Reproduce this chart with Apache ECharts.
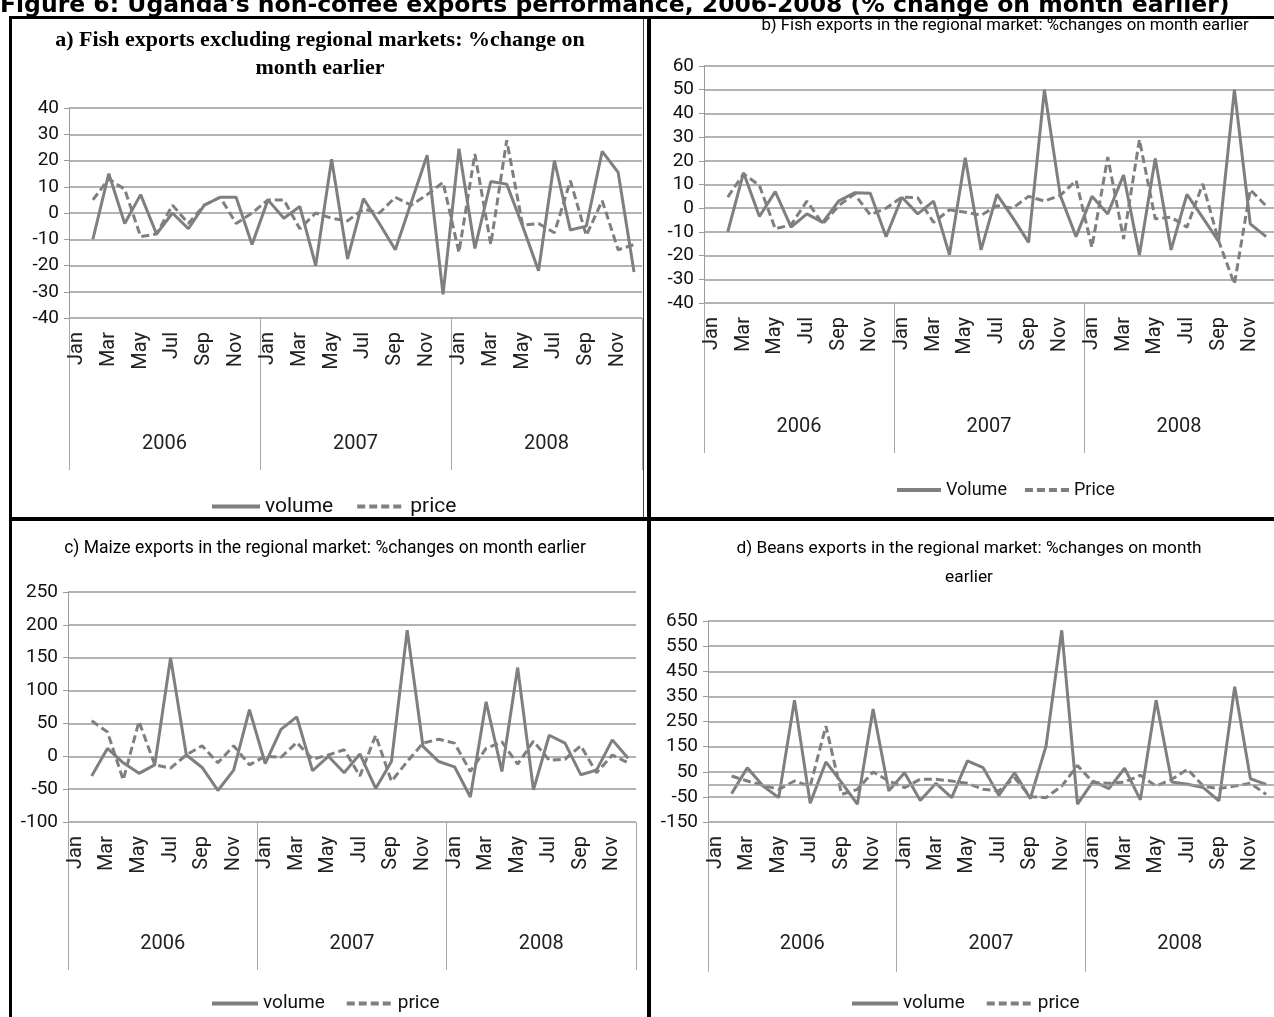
<!DOCTYPE html>
<html><head><meta charset="utf-8">
<script src="https://cdn.jsdelivr.net/npm/echarts@6/dist/echarts.min.js"></script>
<style>html,body{margin:0;padding:0;background:#fff;overflow:hidden}#c{width:1274px;height:1017px}</style>
</head><body><div id="c"></div>
<script>
const monthNames = ['Jan','Feb','Mar','Apr','May','Jun','Jul','Aug','Sep','Oct','Nov','Dec'];
const years = ['2006','2007','2008'];
const months = [].concat(monthNames, monthNames, monthNames);

const volumeA = [null,-10,15,-4,7,-8,0,-6,3,6,6,-12, 5,-2,2.5,-20,20.5,-17.5,5.5,-4,-14,4,22,-31, 24.5,-13.5,12,11,-5,-22,20,-6.5,-5,23.5,15.5,-22.5];
const priceA  = [null,5,13,9,-9,-8,3,-4,3,6,-4,0, 5,5,-6,0,-2,-3,1.5,0,6,3,7,11.7, -15,22.5,-12,27.7,-4.6,-4,-7.5,12.3,-8.6,4.7,-14,-12];
const volumeB = [null,-10,15,-3.5,7,-8,-2.4,-6,3,6.5,6.3,-12, 4.6,-2.4,3,-19.6,21.3,-17.6,5.8,-4,-14.4,50,5.4,-12, 5,-2.4,14,-19.7,21,-17.6,5.8,-4,-14,50,-6.6,-12];
const priceB  = [null,4.7,14.5,9.6,-8.7,-7,3,-6.6,1,6,-2.8,0, 4.7,4.4,-6,-0.7,-1.7,-3,1,0,5,3,5.4,11.7, -16.5,21.6,-13,28.9,-4.5,-3.8,-8,10.3,-13.7,-32,7.8,1];
const volumeC = [null,-30,12,-10,-26,-13,150,2,-17,-52,-21,71, -11,41,60,-22,0,-25,3.5,-49,-8,192,15,-8, -16,-62,83,-23,135,-51,32,20,-28,-21,25,-3];
const priceC  = [null,54,37,-36,53,-13,-18,2,16,-10,16,-13, 0,-1.5,21,-4.5,2,10,-30,32,-38,-8,20,26, 20,-23,12,22,-12,23,-6,-4.5,16,-25,2,-10];
const volumeD = [null,-37,66,-7,-53,335,-75,89,7,-79,300,-26, 46,-64,4,-53,93,66,-44,46,-57,152,613,-79, 13,-17,64,-62,335,9,0,-13,-66,388,22,0];
const priceD  = [null,33,13,-4,-20,13,-7,232,-40,-20,49,13, -13,20,20,13,4,-20,-26,26,-49,-53,-7,75, 7,4,9,36,-7,20,60,-7,-17,-7,4,-40];

const mainTitle = "Figure 6: Uganda's non-coffee exports performance, 2006-2008 (% change on month earlier)";
const titleA = 'a) Fish exports excluding regional markets: %change on\nmonth earlier';
const titleB = 'b) Fish exports in the regional market: %changes on month earlier';
const titleC = 'c) Maize exports in the regional market: %changes on month earlier';
const titleD = 'd) Beans exports in the regional market: %changes on month\nearlier';
const legendLower = ['volume','price'];
const legendUpper = ['Volume','Price'];

const SANS = 'Roboto, "Noto Sans", sans-serif';
const LINE = '#7f7f7f';
const GRID = '#9a9a9a';

const panels = [
  {grid:{left:69, top:108, width:573, height:210}, y:{min:-40,max:40,interval:10}, vol:volumeA, pr:priceA, names:legendLower, tickLen:152, yearMargin:116,
   legend:{left:210, top:496, fontSize:21, itemWidth:48, itemGap:22}},
  {grid:{left:704, top:66, width:578, height:237}, y:{min:-40,max:60,interval:10}, vol:volumeB, pr:priceB, names:legendUpper, tickLen:150, yearMargin:114,
   legend:{left:895, top:481, fontSize:18, itemWidth:44, itemGap:16}},
  {grid:{left:68, top:592, width:568, height:230}, y:{min:-100,max:250,interval:50}, vol:volumeC, pr:priceC, names:legendLower, tickLen:148, yearMargin:112,
   legend:{left:210, top:994, fontSize:19, itemWidth:46, itemGap:20}},
  {grid:{left:708, top:621, width:571, height:201}, y:{min:-150,max:650,interval:100}, vol:volumeD, pr:priceD, names:legendLower, tickLen:150, yearMargin:112,
   legend:{left:850, top:994, fontSize:19, itemWidth:46, itemGap:20}, zeroLine:true}
];

const grids = [], xAxes = [], yAxes = [], series = [], legends = [];
panels.forEach((p, i) => {
  grids.push(Object.assign({containLabel:false}, p.grid));
  xAxes.push({
    type:'category', gridIndex:i, data:months, position:'bottom',
    axisLine:{show:false}, axisTick:{show:false}, splitLine:{show:false},
    axisLabel:{interval:1, rotate:90, margin:14, fontSize:20, fontFamily:SANS, color:'#222'}
  });
  xAxes.push({
    type:'category', gridIndex:i, data:years, position:'bottom',
    axisLine:{show:false},
    axisTick:{show:true, length:p.tickLen, lineStyle:{color:'#a8a8a8', width:1}},
    axisLabel:{margin:p.yearMargin, fontSize:20, fontFamily:SANS, color:'#222'},
    splitLine:{show:false}
  });
  yAxes.push({
    type:'value', gridIndex:i, min:p.y.min, max:p.y.max, interval:p.y.interval,
    axisLine:{show:true, lineStyle:{color:GRID, width:1}},
    axisTick:{show:true, length:5, lineStyle:{color:GRID}},
    axisLabel:{margin:10, fontSize:19, fontFamily:SANS, color:'#111'},
    splitLine:{show:true, lineStyle:{color:GRID, width:1.5}}
  });
  const volSeries = {
    name:p.names[0], type:'line', xAxisIndex:i*2, yAxisIndex:i, data:p.vol,
    symbol:'none', lineStyle:{color:LINE, width:3}, itemStyle:{color:LINE}, z:3
  };
  if (p.zeroLine) {
    volSeries.markLine = {silent:true, symbol:'none', label:{show:false},
      lineStyle:{color:GRID, width:1.5, type:'solid'}, data:[{yAxis:0}]};
  }
  series.push(volSeries);
  series.push({
    name:p.names[1], type:'line', xAxisIndex:i*2, yAxisIndex:i, data:p.pr,
    symbol:'none', lineStyle:{color:LINE, width:3, type:[8,4]}, itemStyle:{color:LINE}, z:2
  });
  legends.push({
    data:p.names, left:p.legend.left, top:p.legend.top, orient:'horizontal', padding:0,
    itemWidth:p.legend.itemWidth, itemHeight:14, itemGap:p.legend.itemGap,
    itemStyle:{opacity:0},
    lineStyle:{width:4},
    textStyle:{fontSize:p.legend.fontSize, fontFamily:SANS, color:'#111'}
  });
});

function txt(x, y, text, font, extra) {
  return {type:'text', x:x, y:y, silent:true, z:100,
    style:Object.assign({text:text, font:font, fill:'#000', align:'center', verticalAlign:'middle'}, extra||{})};
}
function bar(x, y, w, h, c) {
  return {type:'rect', silent:true, z:101, shape:{x:x, y:y, width:w, height:h}, style:{fill:c||'#000'}};
}

const graphics = [
  txt(0, 6, mainTitle, 'bold 23.5px "DejaVu Sans", sans-serif', {align:'left'}),
  txt(320, 54, titleA, 'bold 22px "Liberation Serif", serif', {lineHeight:28}),
  txt(1005, 26, titleB, '16.8px ' + SANS),
  txt(325, 549, titleC, '17.5px ' + SANS),
  txt(969, 563, titleD, '17.3px ' + SANS, {lineHeight:29}),
  bar(9, 16, 1265, 3),
  bar(9, 16, 3, 1001),
  bar(647, 16, 4, 1001),
  bar(9, 517, 1265, 4),
  bar(643, 19, 1, 498, '#444')
];

const chart = echarts.init(document.getElementById('c'), null, {renderer:'canvas'});
chart.setOption({
  animation:false,
  backgroundColor:'#fff',
  grid:grids, xAxis:xAxes, yAxis:yAxes, series:series, legend:legends,
  graphic:graphics
});
</script>
</body></html>
